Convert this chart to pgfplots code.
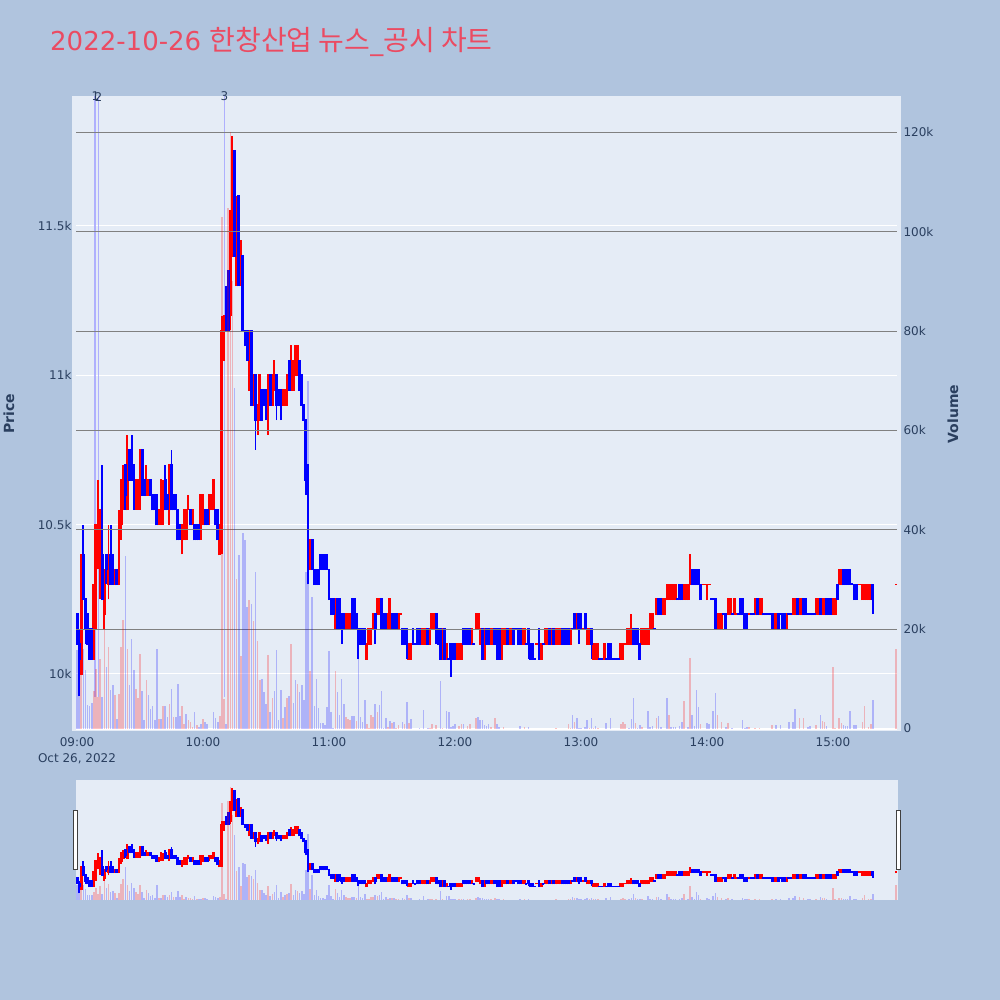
\documentclass[border=0pt]{standalone}
\usepackage{pgfplots}
\pgfplotsset{compat=1.18}
\usepackage{pgfplotstable}
\usepackage{fontspec}
\setmainfont{DejaVu Sans}
\newfontfamily\cjk{Noto Sans CJK KR}
\definecolor{pagebg}{HTML}{B0C4DE}
\definecolor{plotbg}{HTML}{E5ECF6}
\definecolor{ink}{HTML}{2A3F5F}
\definecolor{titlec}{HTML}{EB4B62}
\pgfplotstableread{
m o h l c v
0 10200 10200 10100 10100 -15.8
1 10100 10150 9925 10050 -13
2 10000 10400 10000 10400 10.8
3 10400 10500 10250 10250 -16
4 10250 10250 10100 10150 -11.7
5 10200 10200 10100 10100 -4.8
6 10150 10150 10050 10050 -4.5
7 10150 10150 10050 10050 -5.2
8 10050 10300 10050 10300 7.6
9 10300 10500 10150 10500 12
10 10400 10650 10350 10550 6.4
11 10350 10550 10250 10550 14
12 10400 10700 10250 10250 -6.4
13 10200 10350 10150 10350 20
14 10400 10400 10300 10350 -12.3
15 10300 10500 10250 10400 16.4
16 10400 10500 10300 10300 -7.8
17 10400 10400 10300 10300 -8.7
18 10300 10350 10300 10350 6.7
19 10350 10350 10300 10300 -2
20 10300 10550 10300 10500 7
21 10500 10650 10450 10650 16.4
22 10550 10700 10550 10650 21.9
23 10700 10700 10550 10600 -34.7
24 10550 10800 10550 10700 16
25 10750 10750 10650 10650 -8.8
26 10750 10800 10650 10650 -18
27 10700 10700 10550 10650 -11.8
28 10600 10650 10550 10650 8
29 10600 10650 10550 10650 6.1
30 10600 10750 10550 10750 15
31 10750 10750 10600 10600 -7.5
32 10650 10650 10600 10600 -1.7
33 10600 10700 10600 10650 9.8
34 10600 10650 10600 10650 -6.8
35 10650 10650 10600 10600 -4
36 10600 10600 10550 10550 -4.6
37 10600 10600 10550 10550 -1.7
38 10600 10600 10500 10500 -16
39 10500 10550 10500 10550 2
40 10550 10650 10500 10650 -2
41 10550 10650 10500 10600 4.6
42 10650 10700 10550 10550 -4.6
43 10600 10600 10550 10550 -2.3
44 10550 10700 10500 10700 5
45 10700 10750 10550 10550 -8
46 10600 10600 10550 10550 2.3
47 10600 10600 10550 10550 -2.4
48 10550 10550 10450 10450 -9
49 10500 10500 10450 10450 -2.5
50 10450 10500 10400 10500 4.6
51 10450 10550 10450 10550 1
52 10450 10550 10450 10550 -3
53 10550 10600 10550 10551 1.7
54 10550 10550 10500 10500 1.4
55 10500 10550 10500 10550 .4
56 10500 10500 10450 10450 -3.4
57 10500 10500 10450 10450 .8
58 10500 10500 10450 10450 -.3
59 10450 10600 10450 10600 -1
60 10500 10600 10500 10600 2
61 10550 10550 10500 10500 -1.4
62 10550 10550 10500 10500 -1
63 10550 10600 10500 10600 -.1
64 10550 10600 10550 10600 -.1
65 10550 10650 10550 10650 -3.3
66 10550 10550 10500 10500 -2.2
67 10550 10550 10450 10450 -1.4
68 10400 10500 10400 10500 2.6
69 10500 11200 10400 11150 103
70 11050 11200 11050 11200 6
71 11250 11300 11150 11150 -1
72 11350 11350 11150 11150 104.7
73 11200 11550 11150 11550 120
74 11400 11800 11400 11700 90
75 11750 11750 11400 11400 -68.5
76 11300 11600 11300 11550 30
77 11600 11600 11300 11300 -35
78 11300 11450 11300 11450 14.6
79 11400 11400 11150 11150 -39.3
80 11150 11150 11100 11100 -38
81 11150 11150 11050 11050 -24.4
82 10950 11150 10950 11150 25.8
83 11150 11150 10900 10900 -25
84 10900 11000 10900 11000 21.7
85 11000 11000 10750 10850 -31.4
86 10850 10900 10800 10900 17.6
87 10850 11000 10850 11000 9.8
88 10950 10950 10850 10850 -10
89 10950 10950 10900 10900 -7.4
90 10950 10950 10850 10900 -4.9
91 10900 11000 10800 11000 14.7
92 11000 11000 10900 10900 -3.4
93 10900 11000 10900 11000 6.2
94 10950 11050 10950 11000 -7.6
95 11000 11000 10850 10900 -15.8
96 10950 10950 10900 10900 -1.7
97 10950 10950 10850 10900 -7.7
98 10900 10950 10900 10950 2.2
99 10900 10950 10900 10950 -4.4
100 10900 11000 10900 11000 6.2
101 11050 11050 10950 10950 -6.6
102 10950 11100 10950 11050 17
103 10950 11050 10950 11050 -5.2
104 11000 11100 11000 11100 -9.7
105 11000 11100 11000 11100 8.9
106 11050 11050 10950 10950 -7.3
107 11000 11000 10900 10900 -8.8
108 10900 10900 10850 10850 -5.8
109 10850 10850 10600 10650 -31.5
110 10700 10700 10300 10350 -70
111 10350 10450 10350 10450 11.5
112 10450 10450 10350 10350 -26.4
113 10350 10350 10300 10300 -4.6
114 10350 10350 10300 10300 -10
115 10350 10350 10300 10300 -4.2
116 10400 10400 10350 10350 -1.2
117 10400 10400 10350 10350 -1.2
118 10400 10400 10350 10350 -.7
119 10400 10400 10350 10350 -4.4
120 10350 10350 10250 10250 -15.5
121 10250 10250 10200 10200 -3.4
122 10250 10250 10200 10200 -.2
123 10150 10250 10150 10250 11.6
124 10250 10250 10150 10150 -7.4
125 10250 10250 10150 10200 -2.7
126 10200 10200 10100 10150 -10
127 10200 10200 10150 10150 -5
128 10150 10200 10150 10200 2.3
129 10150 10200 10150 10200 2
130 10150 10200 10150 10200 1.7
131 10250 10250 10150 10150 -2.5
132 10250 10250 10150 10150 -2.6
133 10200 10200 10150 10150 1.6
134 10150 10150 10050 10100 -14.1
135 10150 10150 10100 10100 -2.3
136 10150 10150 10100 10100 -1.4
137 10150 10150 10100 10100 -5.8
138 10050 10100 10050 10100 1
139 10100 10150 10100 10150 .2
140 10100 10150 10100 10150 2.7
141 10150 10200 10150 10200 2.3
142 10200 10200 10100 10150 -5
143 10200 10250 10200 10250 3.4
144 10200 10250 10200 10250 -4.8
145 10250 10250 10150 10150 -7.6
146 10200 10200 10150 10150 -.2
147 10200 10200 10150 10150 -2.2
148 10150 10200 10150 10200 .3
149 10150 10250 10150 10250 -1.5
150 10200 10200 10150 10150 1.2
151 10200 10200 10150 10150 -1.4
152 10200 10200 10150 10150 .2
153 10150 10200 10150 10200 .7
154 10200 10200 10200 10200 .1
155 10150 10150 10100 10100 -1.3
156 10150 10150 10100 10100 1
157 10150 10150 10050 10100 -5.3
158 10050 10100 10050 10100 1.2
159 10050 10100 10050 10100 -2
160 10150 10150 10100 10100 -.1
161 10101 10101 10100 10100 -.1
162 10150 10150 10100 10100 -.1
163 10150 10150 10100 10100 -.2
164 10100 10150 10100 10150 .1
165 10100 10150 10100 10150 -3.8
166 10100 10150 10100 10150 .1
167 10150 10150 10100 10100 -.2
168 10100 10150 10100 10150 .2
169 10150 10200 10150 10200 1
170 10150 10200 10150 10200 .1
171 10200 10200 10100 10150 .7
172 10150 10150 10100 10100 -.1
173 10150 10150 10050 10050 -9.5
174 10050 10150 10050 10150 .2
175 10150 10150 10050 10050 -.1
176 10050 10100 10050 10100 -3.6
177 10051 10051 10050 10050 -3.3
178 10100 10100 9990 10050 -.4
179 10100 10100 10050 10050 -.6
180 10100 10100 10050 10050 -.9
181 10050 10100 10050 10100 .1
182 10050 10100 10050 10100 .5
183 10050 10100 10050 10100 .9
184 10150 10150 10100 10100 -.9
185 10150 10150 10100 10100 -.1
186 10150 10150 10100 10100 .5
187 10150 10150 10100 10100 1
188 10100 10150 10100 10150 .1
189 10101 10101 10100 10100 -.1
190 10150 10200 10150 10200 2.1
191 10150 10200 10150 10200 -2.3
192 10100 10150 10100 10150 -1.7
193 10150 10150 10050 10050 -1.7
194 10050 10150 10050 10150 -.7
195 10150 10150 10100 10100 -.5
196 10150 10150 10100 10100 -.9
197 10100 10150 10100 10150 .4
198 10100 10150 10100 10150 .1
199 10150 10150 10100 10100 2.1
200 10150 10150 10050 10050 -.9
201 10150 10150 10050 10050 -.3
202 10050 10150 10050 10150 .1
203 10100 10150 10100 10150 .4
204 10100 10150 10100 10150 .1
205 10150 10150 10100 10100 -.1
206 10100 10150 10100 10150 .1
207 10100 10150 10100 10150 .1
208 10150 10150 10100 10100 -.1
209 10151 10151 10150 10150 -.1
210 10150 10150 10100 10100 -.1
211 10150 10150 10100 10100 -.5
212 10100 10150 10100 10150 .1
213 10100 10150 10100 10150 .4
214 10101 10101 10100 10100 -.1
215 10150 10150 10050 10100 -.3
216 10100 10100 10050 10050 -.1
217 10100 10100 10050 10050 -.1
218 10051 10051 10050 10050 -.1
219 10100 10100 10100 10100 .1
220 10150 10150 10050 10050 -.1
221 10050 10100 10050 10100 .1
222 10101 10101 10100 10100 -.1
223 10100 10150 10100 10150 .1
224 10100 10150 10100 10150 .1
225 10150 10150 10100 10100 -.1
226 10100 10150 10100 10150 .1
227 10150 10150 10100 10100 -.1
228 10100 10150 10100 10150 .2
229 10100 10150 10100 10150 .1
230 10100 10150 10100 10150 .1
231 10150 10150 10100 10100 -.1
232 10150 10150 10100 10100 -.1
233 10150 10150 10100 10100 -.1
234 10150 10150 10100 10100 1
235 10100 10150 10100 10150 .2
236 10151 10151 10150 10150 -2.8
237 10200 10200 10150 10150 1.3
238 10150 10200 10150 10200 -2.1
239 10200 10200 10100 10150 -.2
240 10200 10200 10150 10150 -.2
241 10150 10150 10150 10150 .1
242 10200 10200 10150 10150 -.3
243 10100 10150 10100 10150 -1.7
244 10100 10150 10100 10150 .2
245 10150 10150 10050 10100 -2.1
246 10050 10100 10050 10100 .2
247 10050 10100 10050 10100 -.5
248 10050 10100 10050 10100 .2
249 10051 10051 10050 10050 -.1
250 10051 10051 10050 10050 -.1
251 10050 10100 10050 10100 .1
252 10051 10051 10050 10050 -1.2
253 10100 10100 10050 10050 -.1
254 10100 10100 10050 10050 -2.2
255 10051 10051 10050 10050 -.1
256 10051 10051 10050 10050 -.1
257 10051 10051 10050 10050 -.1
258 10051 10051 10050 10050 -.1
259 10050 10100 10050 10100 1
260 10050 10100 10050 10100 1.3
261 10100 10100 10100 10100 1
262 10100 10150 10100 10150 .1
263 10100 10150 10100 10150 -.2
264 10100 10200 10100 10150 -2
265 10150 10150 10100 10100 -6.2
266 10150 10150 10100 10100 1.2
267 10150 10150 10100 10100 -.2
268 10100 10100 10050 10050 -.7
269 10100 10150 10100 10150 .4
270 10100 10150 10100 10150 .1
271 10100 10150 10100 10150 .1
272 10100 10150 10100 10150 -3.6
273 10150 10200 10150 10200 -.4
274 10150 10200 10150 10200 -.5
275 10151 10151 10150 10150 -.1
276 10200 10250 10200 10250 2.2
277 10250 10250 10200 10200 -2.5
278 10250 10250 10200 10200 -.3
279 10200 10250 10200 10250 .1
280 10200 10250 10200 10250 .1
281 10250 10300 10250 10300 -6.1
282 10250 10300 10250 10300 2.7
283 10250 10300 10250 10300 -.4
284 10250 10300 10250 10300 -.4
285 10250 10300 10250 10300 -.4
286 10251 10251 10250 10250 -.1
287 10300 10300 10250 10250 -.5
288 10300 10300 10250 10250 -1.4
289 10250 10300 10250 10300 5.6
290 10250 10300 10250 10300 .1
291 10250 10300 10250 10300 -.3
292 10300 10400 10300 10350 14.2
293 10350 10350 10300 10300 -2.7
294 10350 10350 10300 10300 -.6
295 10350 10350 10300 10300 -7.8
296 10350 10350 10300 10300 -4.4
297 10300 10300 10250 10250 .9
298 10300 10300 10300 10300 .1
299 10300 10300 10300 10300 .1
300 10250 10300 10250 10300 -1.1
301 10300 10300 10300 10300 -.9
302 10251 10251 10250 10250 -.1
303 10251 10251 10250 10250 -3.6
304 10250 10250 10150 10150 -7.2
305 10150 10200 10150 10200 2.8
306 10150 10200 10150 10200 .1
307 10150 10200 10150 10200 1.4
308 10201 10201 10200 10200 -.1
309 10200 10200 10150 10150 -.4
310 10200 10250 10200 10250 1.1
311 10200 10250 10200 10250 .1
312 10201 10201 10200 10200 -.2
313 10200 10250 10200 10250 .1
314 10200 10200 10200 10200 .1
315 10201 10201 10200 10200 -.1
316 10250 10250 10200 10200 -.1
317 10250 10250 10200 10200 -1.7
318 10200 10200 10150 10150 -.2
319 10200 10200 10150 10150 -.3
320 10200 10200 10200 10200 .4
321 10201 10201 10200 10200 -.1
322 10201 10201 10200 10200 -.1
323 10200 10250 10200 10250 .2
324 10250 10250 10200 10200 -.1
325 10200 10250 10200 10250 .2
326 10200 10250 10200 10250 .1
327 10201 10201 10200 10200 -.1
328 10201 10201 10200 10200 -.1
329 10201 10201 10200 10200 -.1
330 10201 10201 10200 10200 -.1
331 10200 10200 10150 10150 .7
332 10150 10200 10150 10200 -.1
333 10150 10200 10150 10200 -.7
334 10200 10200 10150 10150 -.1
335 10201 10201 10200 10200 -.7
336 10200 10200 10150 10150 -.1
337 10200 10200 10150 10150 -.1
338 10150 10200 10150 10200 .1
339 10201 10201 10200 10200 -1.3
340 10201 10201 10200 10200 -.1
341 10200 10250 10200 10250 -1.3
342 10200 10250 10200 10250 -3.9
343 10250 10250 10200 10200 -.1
344 10200 10250 10200 10250 2.2
345 10200 10250 10200 10250 .1
346 10250 10250 10200 10200 2.1
347 10250 10250 10200 10200 -.1
348 10201 10201 10200 10200 -.4
349 10201 10201 10200 10200 -.6
350 10201 10201 10200 10200 -.1
351 10201 10201 10200 10200 -.1
352 10200 10250 10200 10250 .7
353 10200 10250 10200 10250 .1
354 10250 10250 10200 10200 -2.8
355 10200 10250 10200 10250 1.5
356 10200 10250 10200 10250 1.4
357 10250 10250 10200 10200 -.6
358 10250 10250 10200 10200 -.1
359 10250 10250 10200 10200 -.1
360 10200 10250 10200 10250 12.4
361 10200 10250 10200 10250 .2
362 10300 10300 10250 10250 -.1
363 10300 10350 10300 10350 2.1
364 10300 10350 10300 10350 1.2
365 10350 10350 10300 10300 -.7
366 10350 10350 10300 10300 -.6
367 10350 10350 10300 10300 -.5
368 10350 10350 10300 10300 -3.5
369 10301 10301 10300 10300 -.1
370 10300 10300 10250 10250 -.7
371 10300 10300 10250 10250 -.7
372 10300 10300 10300 10300 .1
373 10300 10300 10300 10300 .1
374 10250 10300 10250 10300 1.3
375 10250 10300 10250 10300 4.6
376 10250 10300 10250 10300 .1
377 10250 10300 10250 10300 .4
378 10250 10300 10250 10300 .9
379 10300 10300 10200 10250 -5.8
390 10300 10300 10300 10300 16
}\candledata
\newcommand\vols{
  \addplot[ycomb, no marks, line width=1.6pt, color=red, opacity=.24, forget plot,
    restrict expr to domain={\thisrow{v}}{0.15:1000}]
    table[x=m, y=v] {\candledata};
  \addplot[ycomb, no marks, line width=1.6pt, color=blue, opacity=.24, forget plot,
    restrict expr to domain={\thisrow{v}}{-1000:-0.15}]
    table[x=m, y expr={-\thisrow{v}}] {\candledata};
}
% #1: half the stroke of a candle body, in price units of the axis it is drawn in
\newcommand\candles[1]{
  \addplot[draw=none, mark=none, forget plot, restrict expr to domain={\thisrow{c}-\thisrow{o}}{0:100000},
    error bars/.cd, y dir=plus, y explicit, error mark=none, error bar style={line width=1.9pt, color=red}]
    table[x=m, y=l, y error plus expr=\thisrow{h}-\thisrow{l}] {\candledata};
  \addplot[draw=none, mark=none, forget plot, restrict expr to domain={\thisrow{c}-\thisrow{o}}{0:100000},
    error bars/.cd, y dir=plus, y explicit, error mark=none, error bar style={line width=2.9pt, color=red}]
    table[x=m, y expr={\thisrow{o}-#1}, y error plus expr={\thisrow{c}-\thisrow{o}+2*#1}] {\candledata};
  \addplot[draw=none, mark=none, forget plot, restrict expr to domain={\thisrow{c}-\thisrow{o}}{-100000:-0.5},
    error bars/.cd, y dir=plus, y explicit, error mark=none, error bar style={line width=1.9pt, color=blue}]
    table[x=m, y=l, y error plus expr=\thisrow{h}-\thisrow{l}] {\candledata};
  \addplot[draw=none, mark=none, forget plot, restrict expr to domain={\thisrow{c}-\thisrow{o}}{-100000:-0.5},
    error bars/.cd, y dir=plus, y explicit, error mark=none, error bar style={line width=2.9pt, color=blue}]
    table[x=m, y expr={\thisrow{c}-#1}, y error plus expr={\thisrow{o}-\thisrow{c}+2*#1}] {\candledata};
}
\pgfplotsset{
  base/.style={
    scale only axis, width=821pt, anchor=south west,
    xmin=-0.5, xmax=390.5, clip=true, clip mode=individual,
    axis line style={draw=none}, major tick length=0pt, minor tick length=0pt,
    tick label style={font=\fontsize{12}{14}\selectfont, text=ink, /pgf/number format/assume math mode=true},
    scaled ticks=false,
  },
}
\begin{document}
\begin{tikzpicture}[x=1pt,y=1pt]
\fill[pagebg] (0,0) rectangle (1000,1000);
\fill[plotbg] (72,269) rectangle (901,904);
\fill[plotbg] (76,100) rectangle (898,220);
\node[anchor=base west, inner sep=0pt, text=titlec, font=\fontsize{26}{30}\selectfont] at (50,949) {2022-10-26 {\cjk\fontsize{28}{30}\selectfont 한창산업 뉴스}\_{\cjk\fontsize{28}{30}\selectfont 공시 차트}};
\node[rotate=90, text=ink, font=\fontsize{14}{16}\selectfont\bfseries] at (9,586) {Price};
\node[rotate=90, text=ink, font=\fontsize{14}{16}\selectfont\bfseries] at (953,586) {Volume};
\node[text=ink, font=\fontsize{12}{14}\selectfont] at (77,241.5) {Oct 26, 2022};
\begin{axis}[base, at={(76pt,269pt)}, height=635pt,
  ymin=9809, ymax=11935,
  ytick={10000,10500,11000,11500}, yticklabels={10k,10.5k,11k,11.5k},
  ymajorgrids, grid style={white, line width=1pt},
  xtick={0,60,120,180,240,300,360}, xticklabels={09:00,10:00,11:00,12:00,13:00,14:00,15:00},
  xticklabel style={yshift=-3pt}, yticklabel style={xshift=-1pt},
]
\addplot[color=blue!35!white, line width=1.7pt, opacity=.85, forget plot] coordinates {(8.7,9923) (8.7,11935)};
\addplot[color=blue!35!white, line width=1.7pt, opacity=.85, forget plot] coordinates {(10.2,9923) (10.2,11935)};
\addplot[color=blue!35!white, line width=1.7pt, opacity=.85, forget plot] coordinates {(70.2,9923) (70.2,11935)};
\candles{2.7}
\node[text=ink, font=\fontsize{12}{14}\selectfont] at (axis cs:8.7,11933) {1};
\node[text=ink, font=\fontsize{12}{14}\selectfont] at (axis cs:10.2,11933) {2};
\node[text=ink, font=\fontsize{12}{14}\selectfont] at (axis cs:70.2,11933) {3};
\end{axis}
\begin{axis}[base, at={(76pt,269pt)}, height=635pt,
  ymin=-0.5, ymax=127.3, axis y line*=right, axis x line=none,
  ytick={20,40,60,80,100,120}, yticklabels={20k,40k,60k,80k,100k,120k},
  extra y ticks={0}, extra y tick labels={0},
  extra tick style={grid style={white, line width=2pt}},
  ymajorgrids, grid style={color=black!50, line width=1pt},
  yticklabel style={xshift=3pt},
]
\vols
\end{axis}
\begin{axis}[base, at={(76pt,100pt)}, height=120pt, ymin=9809, ymax=11935, hide axis]
\candles{14}
\end{axis}
\begin{axis}[base, at={(76pt,100pt)}, height=120pt, ymin=-0.5, ymax=127.3, hide axis]
\vols
\end{axis}
\draw[fill=white, draw=black!75, line width=1pt] (73.5,130) rectangle (77.5,189.5);
\draw[fill=white, draw=black!75, line width=1pt] (896.5,130) rectangle (900.5,189.5);
\end{tikzpicture}
\end{document}
